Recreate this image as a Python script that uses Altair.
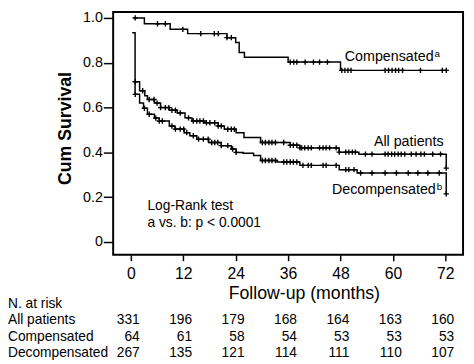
import altair as alt
import pandas as pd

# ---- data ----
comp_m = [0.5, 3.1, 9.0, 13.0, 22.0, 24.0, 24.8, 26.0, 36.0, 48.0, 72.2]
comp_s = [1.0, 0.974, 0.949, 0.930, 0.912, 0.890, 0.846, 0.825, 0.803, 0.766, 0.766]

all_m = [0.97, 2.0, 3.2, 3.8, 5.4, 6.8, 8.8, 10.6, 12.4, 14.0, 16.7, 20.0, 21.4, 24.1, 25.9,
         29.7, 36.5, 38.7, 47.7, 52.2, 72.2, 72.2]
all_s = [0.715, 0.675, 0.653, 0.636, 0.620, 0.600, 0.588, 0.576, 0.554, 0.540, 0.532, 0.518,
         0.503, 0.488, 0.466, 0.444, 0.432, 0.420, 0.401, 0.392, 0.392, 0.330]

dec_m = [0.3, 0.97, 2.0, 2.9, 3.8, 5.4, 6.5, 8.8, 10.1, 12.2, 13.5, 15.1, 17.8, 20.7, 23.0,
         24.1, 25.7, 28.1, 29.7, 33.5, 38.7, 47.7, 51.8, 72.2, 72.2]
dec_s = [0.934, 0.659, 0.620, 0.597, 0.570, 0.553, 0.540, 0.518, 0.504, 0.488, 0.474, 0.459,
         0.444, 0.430, 0.415, 0.400, 0.396, 0.386, 0.364, 0.357, 0.342, 0.323, 0.308, 0.308, 0.215]

comp_cens = [1.0, 6.1, 7.9, 11.9, 16.0, 19.1, 20.0, 22.0, 23.0, 36.5, 37.3, 38.0, 39.9, 41.8,
             43.2, 45.0, 48.3, 49.0, 49.7, 50.4, 58.2, 59.0, 59.8, 60.6, 61.3, 62.2, 66.3,
             71.3, 72.2]
all_cens = [1.0, 2.7, 4.2, 5.3, 6.0, 6.8, 7.9, 8.7, 9.4, 10.2, 11.3, 13.2, 14.3, 15.1, 15.8,
            16.6, 17.3, 18.1, 19.2, 20.0, 20.7, 22.2, 23.0, 23.7, 30.1, 30.8, 31.6, 32.3,
            33.1, 35.0, 36.5, 37.2, 38.0, 38.7, 39.1, 39.8, 40.6, 41.3, 43.2, 44.0, 44.7,
            45.5, 47.0, 47.7, 49.2, 49.9, 50.7, 51.4, 53.7, 55.2, 58.2, 58.9, 59.7, 60.4,
            61.2, 61.9, 62.7, 64.2, 65.3, 66.4, 67.2, 69.1, 70.9, 72.2]
dec_cens = [1.0, 3.1, 4.2, 5.7, 6.5, 7.2, 9.4, 10.2, 11.3, 12.1, 12.8, 14.3, 15.5, 16.6,
            17.7, 18.5, 19.2, 19.9, 20.7, 22.2, 23.3, 24.1, 30.1, 30.8, 31.6, 32.3, 33.1,
            35.0, 35.7, 36.5, 37.2, 38.0, 39.4, 40.6, 41.3, 44.0, 44.7, 47.0, 49.2, 49.9,
            51.1, 52.6, 55.2, 58.2, 60.8, 63.5, 65.7, 68.0, 70.6, 72.2]

tick_months = [0, 12, 24, 36, 48, 60, 72]
risk_rows = ["N. at risk", "All patients", "Compensated", "Decompensated"]
risk_all = [331, 196, 179, 168, 164, 163, 160]
risk_comp = [64, 61, 58, 54, 53, 53, 53]
risk_dec = [267, 135, 121, 114, 111, 110, 107]

# labels: text, month, value, align
lab_text = ["Compensated", "All patients", "Decompensated", "Log-Rank test", "a vs. b: p < 0.0001"]
lab_m = [69.3, 71.6, 69.8, 3.8, 3.8]
lab_v = [0.81, 0.43, 0.215, 0.142, 0.069]
lab_align = ["right", "right", "right", "left", "left"]
sup_text = ["a", "b"]
sup_m = [69.3, 69.8]
sup_v = [0.81, 0.215]

# ---- build tables ----
def steps(name, ms, ss):
    return pd.DataFrame({"series": name, "month": ms, "surv": ss, "idx": range(len(ms))})

def at(ms, ss, t):
    v = ss[0]
    for m, s in zip(ms, ss):
        if m <= t:
            v = s
    return v

def cens(name, ms, ss, cs):
    return pd.DataFrame({"series": name, "month": cs, "surv": [at(ms, ss, t) for t in cs]})

curves = pd.concat([steps("Compensated", comp_m, comp_s),
                    steps("All patients", all_m, all_s),
                    steps("Decompensated", dec_m, dec_s)])
marks = pd.concat([cens("Compensated", comp_m, comp_s, comp_cens),
                   cens("All patients", all_m, all_s, all_cens),
                   cens("Decompensated", dec_m, dec_s, dec_cens)])
labels = pd.DataFrame({"text": lab_text, "month": lab_m, "surv": lab_v, "align": lab_align})
sups = pd.DataFrame({"text": sup_text, "month": sup_m, "surv": sup_v})
risk = pd.DataFrame(
    [{"row": r, "month": m, "n": n}
     for r, vals in [("All patients", risk_all), ("Compensated", risk_comp), ("Decompensated", risk_dec)]
     for m, n in zip(tick_months, vals)])
rows = pd.DataFrame({"row": risk_rows})

FONT = "Liberation Sans"

xs = alt.Scale(domain=[-4.05, 76.05], nice=False, zero=False)
ys = alt.Scale(domain=[-0.057, 1.0263], nice=False, zero=False)

x_enc = alt.X("month:Q", scale=xs, axis=alt.Axis(
    values=tick_months, title="Follow-up (months)", grid=False, domain=False,
    tickSize=6, tickWidth=1.5, tickColor="black", labelPadding=5, labelFontSize=16,
    labelFont=FONT, labelColor="black", titleFont=FONT, titleFontSize=18,
    titleFontWeight="normal", titleColor="black", titleX=194, titleY=39,
    titleBaseline="middle", titleAlign="center"))
y_enc = alt.Y("surv:Q", scale=ys, axis=alt.Axis(
    values=[0, 0.2, 0.4, 0.6, 0.8, 1.0], title="Cum Survival", grid=False, domain=False,
    labelExpr="datum.value == 0 ? '0' : format(datum.value, '.1f')",
    tickSize=10, tickWidth=1.5, tickColor="black", labelPadding=1, labelFontSize=14.5,
    labelFont=FONT, labelColor="black", titleFont=FONT, titleFontSize=18,
    titleFontWeight="bold", titleColor="black", titleX=-48, titleY=118,
    titleAngle=-90, titleBaseline="middle", titleAlign="center"))

line = alt.Chart(curves).mark_line(interpolate="step-after", color="black", strokeWidth=1.5).encode(
    x=x_enc, y=y_enc, detail="series:N", order="idx:Q")

cross = "M-1,0L1,0M0,-1L0,1"
pts = alt.Chart(marks).mark_point(shape=cross, size=30, filled=False, color="black",
                                  strokeWidth=1.4, opacity=1).encode(
    x=alt.X("month:Q", scale=xs), y=alt.Y("surv:Q", scale=ys))

lab_r = alt.Chart(labels).transform_filter("datum.align == 'right'").mark_text(
    align="right", baseline="alphabetic", font=FONT, fontSize=14.5, color="black").encode(
    x=alt.X("month:Q", scale=xs), y=alt.Y("surv:Q", scale=ys), text="text:N")
lab_l = alt.Chart(labels).transform_filter("datum.align == 'left'").mark_text(
    align="left", baseline="alphabetic", font=FONT, fontSize=14, color="black").encode(
    x=alt.X("month:Q", scale=xs), y=alt.Y("surv:Q", scale=ys), text="text:N")
sup = alt.Chart(sups).mark_text(align="left", baseline="alphabetic", dx=1, dy=-4,
                                font=FONT, fontSize=10, color="black").encode(
    x=alt.X("month:Q", scale=xs), y=alt.Y("surv:Q", scale=ys), text="text:N")

main = alt.layer(line, pts, lab_r, lab_l, sup)

row_scale = alt.Scale(domain=risk_rows, range=[297, 347], padding=0)
nums = alt.Chart(risk).mark_text(align="right", baseline="middle", dx=9, font=FONT,
                                 fontSize=14, color="black").encode(
    x=alt.X("month:Q", scale=xs),
    y=alt.Y("row:N", scale=row_scale, axis=None), text="n:Q")
rowlab = alt.Chart(rows).mark_text(align="left", baseline="middle", font=FONT,
                                   fontSize=14, color="black").encode(
    x=alt.value(-107),
    y=alt.Y("row:N", scale=row_scale, axis=None), text="row:N")
table = alt.layer(nums, rowlab)

chart = alt.layer(main, table).resolve_scale(y="independent").properties(
    width=356, height=247,
    autosize=alt.AutoSizeParams(type="none"),
    padding={"left": 107, "top": 1, "right": 3, "bottom": 108},
).configure_view(stroke="black", strokeWidth=2)

chart.save("out.html", embed_options={"renderer": "svg", "actions": False})
